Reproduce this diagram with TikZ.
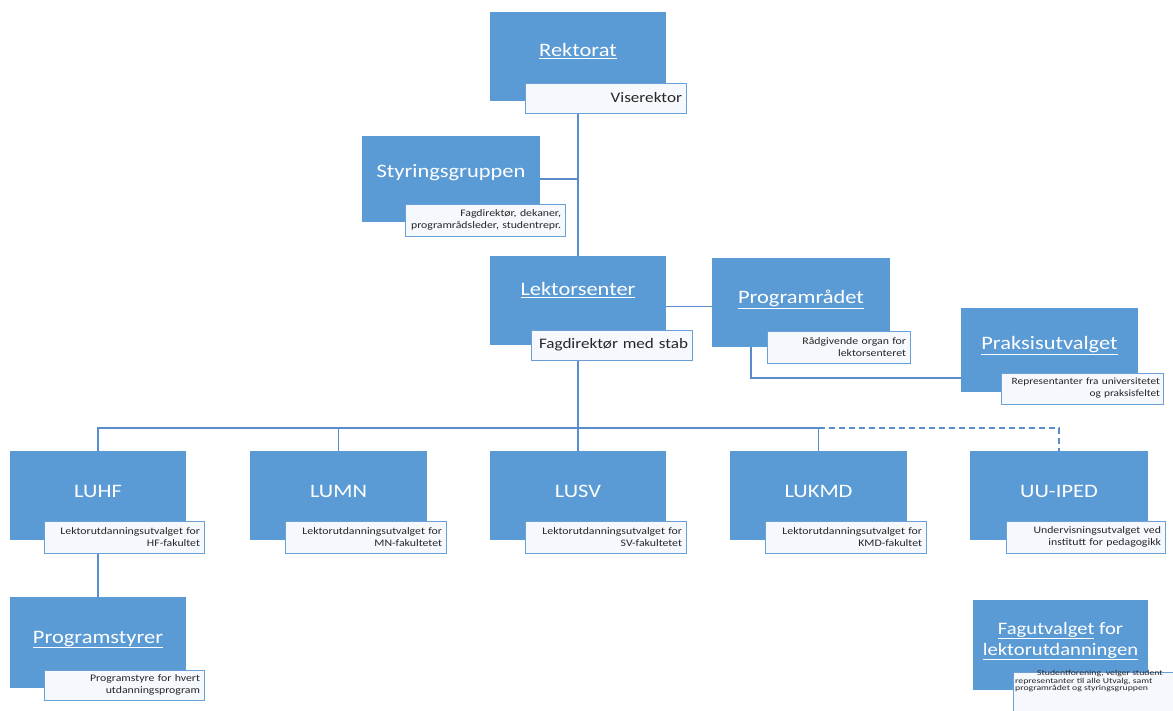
\documentclass[tikz,border=0pt]{standalone}
\usepackage{fontspec}
\setmainfont{Carlito}[FakeStretch=1.18]
\newfontfamily\widefont{Carlito}[FakeStretch=1.3]
\usetikzlibrary{backgrounds}
\definecolor{boxblue}{HTML}{5B9BD5}
\definecolor{lineblue}{HTML}{5A8CCB}
\definecolor{subborder}{HTML}{6A9FD8}
\definecolor{subfill}{HTML}{F5F8FC}
\definecolor{subtext}{HTML}{262626}
\tikzset{
  box/.style={fill=boxblue, draw=none, minimum width=176pt, minimum height=89pt, inner sep=0pt},
  title/.style={text=white, font=\fontsize{19}{21}\selectfont, inner sep=0pt},
  sub/.style={draw=subborder, line width=0.9pt, fill=subfill, inner xsep=4pt, inner ysep=0pt,
    minimum height=32pt, text=subtext, align=right, font=\fontsize{10}{12.5}\selectfont},
  subbig/.style={sub, minimum height=30pt, font=\fontsize{14.5}{16}\selectfont},
  conn/.style={draw=lineblue, line width=1.2pt},
  dashconn/.style={conn, dash pattern=on 6pt off 4pt},
}
\begin{document}
\begin{tikzpicture}[x=1pt,y=-1pt]
\useasboundingbox (0,0) rectangle (1173,711);
\clip (0,0) rectangle (1173,711);

% Rektorat
\node[box] (rek) at (578,56.5) {};
\node[title, anchor=base] (rekT) at (578,57) {\underline{Rektorat}};
\node[subbig, text width=153pt] (rekS) at (605.5,98) {Viserektor};

% Styringsgruppen
\node[box, minimum width=178pt, minimum height=86pt] (sty) at (451,179) {};
\node[title, anchor=base] (styT) at (451,178) {Styringsgruppen};
\node[sub, text width=152pt] (styS) at (485,220) {Fagdirektør, dekaner,\\programrådsleder, studentrepr.};

% Lektorsenter
\node[box] (lek) at (578,300.5) {};
\node[title, anchor=base] (lekT) at (578,296) {\underline{Lektorsenter}};
\node[subbig, text width=153pt] (lekS) at (611.5,345) {Fagdirektør med stab};

% Programrådet
\node[box, minimum width=178pt] (pr) at (801,302.5) {};
\node[title, anchor=base] (prT) at (801,304) {\underline{Programrådet}};
\node[sub, text width=135pt] (prS) at (838.5,347) {Rådgivende organ for\\lektorsenteret};

% Praksisutvalget
\node[box, minimum width=177pt, minimum height=84pt] (prk) at (1049.5,350) {};
\node[title, anchor=base] (prkT) at (1049.5,350) {\underline{Praksisutvalget}};
\node[sub, text width=156pt, inner xsep=3pt, minimum height=31pt, font=\fontsize{9.6}{12}\selectfont] (prkS) at (1082,388.5) {Representanter fra universitetet\\og praksisfeltet};

% Bottom row
\node[box] (luhf) at (98,495.5) {};
\node[title, anchor=base] (luhfT) at (98,497) {LUHF};
\node[sub, text width=152pt] (luhfS) at (124,537) {Lektorutdanningsutvalget for\\HF-fakultet};

\node[box, minimum width=177pt] (lumn) at (338.5,495.5) {};
\node[title, anchor=base] (lumnT) at (338.5,497) {LUMN};
\node[sub, text width=153pt] (lumnS) at (365.5,537) {Lektorutdanningsutvalget for\\MN-fakultetet};

\node[box] (lusv) at (578,495.5) {};
\node[title, anchor=base] (lusvT) at (578,497) {LUSV};
\node[sub, text width=153pt] (lusvS) at (605.5,537) {Lektorutdanningsutvalget for\\SV-fakultetet};

\node[box, minimum width=177pt] (lukmd) at (818.5,495.5) {};
\node[title, anchor=base] (lukmdT) at (818.5,497) {LUKMD};
\node[sub, text width=153pt] (lukmdS) at (845.5,537) {Lektorutdanningsutvalget for\\KMD-fakultet};

\node[box, minimum width=178pt] (uu) at (1059,495.5) {};
\node[title, anchor=base] (uuT) at (1059,497) {UU-IPED};
\node[sub, text width=151pt] (uuS) at (1085.5,537) {Undervisningsutvalget ved\\institutt for pedagogikk};

% Programstyrer
\node[box, minimum height=91pt] (ps) at (98,642.5) {};
\node[title, anchor=base] (psT) at (98,643) {\underline{Programstyrer}};
\node[sub, text width=152pt, minimum height=30pt] (psS) at (124,685) {Programstyre for hvert\\utdanningsprogram};

% Fagutvalget
\node[box, minimum width=175pt, minimum height=90pt] (fag) at (1060.5,645) {};
\node[title, align=center, font=\fontsize{17.5}{21}\selectfont] (fagT) at (1060.5,641) {\underline{Fagutvalget} for\\\underline{lektorutdanningen}};
\node[sub, anchor=north west, minimum width=185pt, minimum height=50pt] (fagS) at (1013,672) {};
\node[anchor=north west, align=left, inner sep=0pt, text=subtext, font=\widefont\fontsize{7.5}{7.6}\selectfont] (fagST) at (1015,670) {\hspace*{22pt}Studentforening, velger student\\representanter til alle Utvalg, samt\\programrådet og styringsgruppen};

% Connectors
\coordinate (busy) at (0,428);
\begin{scope}[on background layer]
\draw[conn] (rek.south) -- (lek.north);
\draw[conn] (sty.east) -- (sty.east -| rek.south);
\draw[conn] ([yshift=-6pt]lek.east) -- ([yshift=-6pt]lek.east -| pr.west);
\draw[conn] (pr.south -| 751,0) |- ([yshift=-28pt]prk.west);
\draw[conn] (lek.south) -- (lek.south |- busy);
\draw[conn] (luhf.north) -- (luhf.north |- busy) -- (lukmd.north |- busy) -- (lukmd.north);
\draw[conn] (lumn.north) -- (lumn.north |- busy);
\draw[conn] (lusv.north) -- (lusv.north |- busy);
\draw[dashconn] (lukmd.north |- busy) -| (uu.north);
\draw[conn] (luhf.south) -- (ps.north);
\end{scope}
\end{tikzpicture}
\end{document}
